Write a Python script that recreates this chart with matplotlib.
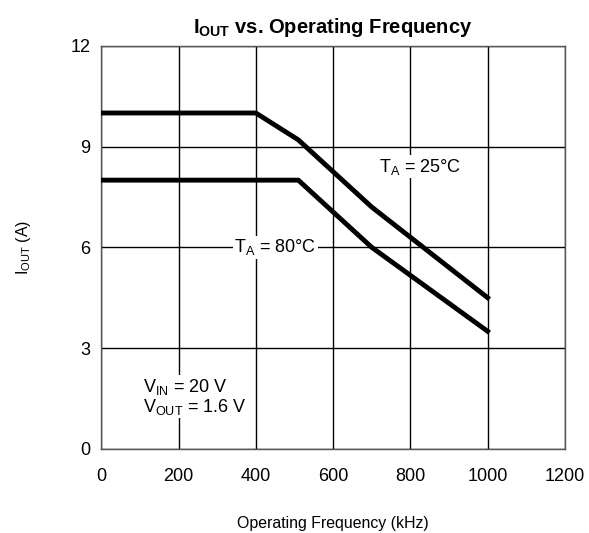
import numpy as np
from matplotlib import pyplot as plt

plt.rcParams['font.family'] = ['Liberation Sans', 'DejaVu Sans']
plt.rcParams['mathtext.fontset'] = 'custom'
plt.rcParams['mathtext.rm'] = 'Liberation Sans'
plt.rcParams['mathtext.it'] = 'Liberation Sans'
plt.rcParams['mathtext.bf'] = 'Liberation Sans:bold'

# Data
freq_25c = [0, 400, 510, 700, 1000]
iout_25c = [10, 10, 9.2, 7.2, 4.5]
freq_80c = [0, 510, 700, 1000]
iout_80c = [8, 8, 6.0, 3.5]

x_ticks = [0, 200, 400, 600, 800, 1000, 1200]
y_ticks = [0, 3, 6, 9, 12]

fig = plt.figure(figsize=(5.89, 5.33), dpi=100)
ax = fig.add_axes([0.172, 0.158, 0.787, 0.756])

ax.plot(freq_25c, iout_25c, color='black', linewidth=3.5, solid_joinstyle='miter', zorder=3)
ax.plot(freq_80c, iout_80c, color='black', linewidth=3.5, solid_joinstyle='miter', zorder=3)

ax.set_xlim(0, 1200)
ax.set_ylim(0, 12)
ax.set_xticks(x_ticks)
ax.set_yticks(y_ticks)
ax.tick_params(length=0, labelsize=13)
ax.tick_params(axis='x', pad=14)
ax.tick_params(axis='y', pad=8)
ax.grid(True, color='black', linewidth=1.0)
ax.set_axisbelow(True)
for s in ax.spines.values():
	s.set_color('#555555')
	s.set_linewidth(1.0)

ax.set_title(r'$\mathbf{I_{OUT}}$ vs. Operating Frequency', fontsize=14.5, fontweight='bold', pad=9)
ax.set_xlabel('Operating Frequency (kHz)', fontsize=11.4, labelpad=22)
ax.set_ylabel(r'$\mathregular{I_{OUT}}$ (A)', fontsize=11.4, labelpad=27)

box = dict(facecolor='white', edgecolor='none', pad=1)
ax.text(825, 8.4, r'$\mathregular{T_A}$ = 25°C', fontsize=13, ha='center', va='center', bbox=box, zorder=4)
ax.text(450, 6.0, r'$\mathregular{T_A}$ = 80°C', fontsize=13, ha='center', va='center', bbox=box, zorder=4)
ax.text(108, 1.55, r'$\mathregular{V_{IN}}$ = 20 V' + '\n' + r'$\mathregular{V_{OUT}}$ = 1.6 V',
	fontsize=13, ha='left', va='center', linespacing=1.0, bbox=box, zorder=4)

fig.savefig('out.png', dpi=100)
